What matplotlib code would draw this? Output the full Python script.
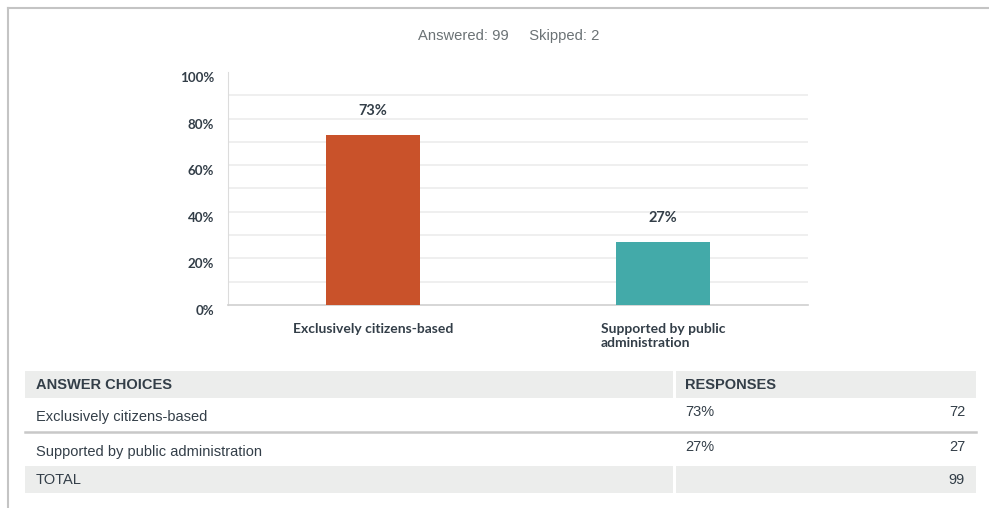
import matplotlib
matplotlib.use("Agg")
import matplotlib.pyplot as plt
from matplotlib.patches import Rectangle
from matplotlib.lines import Line2D

# ---- data ----
categories = ["Exclusively citizens-based", "Supported by public administration"]
tick_labels = ["Exclusively citizens-based", "Supported by public\nadministration"]
percents = [73, 27]
counts = [72, 27]
total = 99
answered = 99
skipped = 2
yticks = [0, 20, 40, 60, 80, 100]
bar_colors = ["#C9522A", "#43AAA9"]

W, H = 989, 508
fig = plt.figure(figsize=(W / 100, H / 100), dpi=100)
fig.patch.set_facecolor("white")

def fx(px):
    return px / W

def fy(py):
    return 1 - py / H

# outer frame (top and left border)
fig.add_artist(Line2D([fx(8), fx(989)], [fy(8), fy(8)], color="#c4c4c4", lw=1.5))
fig.add_artist(Line2D([fx(8), fx(8)], [fy(8), fy(508)], color="#c4c4c4", lw=1.5))

fig.text(fx(509), fy(36), f"Answered: {answered}     Skipped: {skipped}",
         ha="center", va="center", fontsize=10.6, color="#6b7275",
         family="Liberation Sans")

# ---- chart ----
ax = fig.add_axes([fx(228), fy(305), fx(808) - fx(228), (305 - 72) / H])
x = list(range(len(categories)))
bars = ax.bar(x, percents, width=0.324, color=bar_colors, zorder=3)
ax.set_xlim(-0.5, 1.5)
ax.set_ylim(0, 100)
for g in range(10, 100, 10):
    ax.axhline(g, color="#ececec", lw=1.2, zorder=1)
for s in ["top", "right"]:
    ax.spines[s].set_visible(False)
ax.spines["left"].set_color("#dcdcdc")
ax.spines["bottom"].set_color("#cfcfcf")
ax.spines["bottom"].set_linewidth(1.2)
ax.set_yticks(yticks)
ax.set_yticklabels([f"{v}%" for v in yticks], fontsize=9.6, fontweight="bold",
                   color="#333e48", family="Lato")
for lab in ax.get_yticklabels():
    lab.set_verticalalignment("top")
ax.tick_params(axis="y", length=0, pad=10)
ax.set_xticks(x)
ax.set_xticklabels(tick_labels, fontsize=10, fontweight="bold", color="#333e48",
                   family="Lato", multialignment="left", linespacing=1.15)
ax.tick_params(axis="x", length=0, pad=13)
for b, p in zip(bars, percents):
    ax.annotate(f"{p}%", (b.get_x() + b.get_width() / 2, p), xytext=(0, 17),
                textcoords="offset points", ha="center", va="center",
                fontsize=10.5, fontweight="bold", color="#333e48", family="Lato")

# ---- table ----
gray = "#ecedec"
tfont = dict(family="Liberation Sans", fontsize=10.5, color="#333e48")
def rect(x0, y0, x1, y1, c):
    fig.add_artist(Rectangle((fx(x0), fy(y1)), fx(x1) - fx(x0), (y1 - y0) / H,
                             facecolor=c, edgecolor="none"))

rect(25, 371, 673, 398, gray)
rect(676, 371, 976, 398, gray)
fig.text(fx(36), fy(385), "ANSWER CHOICES", ha="left", va="center",
         fontweight="bold", **tfont)
fig.text(fx(685), fy(385), "RESPONSES", ha="left", va="center",
         fontweight="bold", **tfont)

row_y = [417.5, 452]
pct_y = [412.5, 447]
for i, (c, p, n) in enumerate(zip(categories, percents, counts)):
    fig.text(fx(36), fy(row_y[i]), c, ha="left", va="center", **tfont)
    fig.text(fx(685), fy(pct_y[i]), f"{p}%", ha="left", va="center", **tfont)
    fig.text(fx(965), fy(pct_y[i]), f"{n}", ha="right", va="center", **tfont)

fig.add_artist(Line2D([fx(25), fx(976)], [fy(432), fy(432)], color="#c8c8c8", lw=1.8))

rect(25, 466, 673, 493, gray)
rect(676, 466, 976, 493, gray)
fig.text(fx(36), fy(480.5), "TOTAL", ha="left", va="center", **tfont)
fig.text(fx(965), fy(480.5), f"{total}", ha="right", va="center", **tfont)

fig.savefig("out.png", dpi=100, facecolor="white")
